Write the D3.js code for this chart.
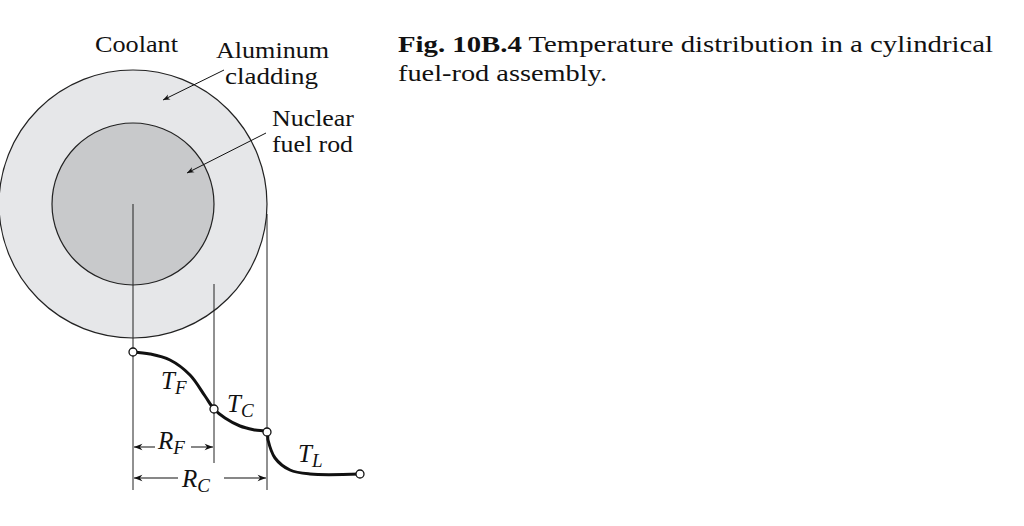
<!DOCTYPE html>
<html><head><meta charset="utf-8">
<script src="https://cdn.jsdelivr.net/npm/d3@7"></script>
<style>body{margin:0;background:#fff}text{font-family:"Liberation Serif","DejaVu Serif",serif;fill:#111}</style>
</head><body><svg id="c" width="1024" height="526"></svg>
<script>
// radial positions (px-like units) and temperature profile points
const radii = {fuel: 81, clad: 134};
const center = [133, 204];
const profileR = [0,17,37,57,72,81,92,107,122,134,135,142,157,177,227];
const profileT = [352,354,360,375,396,409,418,426,430,432,440,458,470,474,474];
const markers = [0,81,134,227];
const markerT = [352,409,432,474];

const svg = d3.select("#c");
const x = d3.scaleLinear().domain([0,1024]).range([center[0], center[0]+1024]);
const y = d3.scaleLinear().domain([0,526]).range([0,526]);

svg.append("defs").append("marker").attr("id","ah").attr("viewBox","0 0 10 10")
  .attr("refX",10).attr("refY",5).attr("markerWidth",9).attr("markerHeight",7).attr("orient","auto-start-reverse")
  .append("path").attr("d","M0,1 L10,5 L0,9 L3,5 Z").attr("fill","#111");

svg.append("circle").attr("cx",center[0]).attr("cy",center[1]).attr("r",radii.clad)
  .attr("fill","#e6e7e9").attr("stroke","#222").attr("stroke-width",1.2);
svg.append("circle").attr("cx",center[0]).attr("cy",center[1]).attr("r",radii.fuel)
  .attr("fill","#c8c9cb").attr("stroke","#222").attr("stroke-width",1.2);

svg.append("line").attr("x1",x(0)).attr("x2",x(0)).attr("y1",center[1]).attr("y2",490).attr("stroke","#222");
svg.append("line").attr("x1",x(81)).attr("x2",x(81)).attr("y1",center[1]+80).attr("y2",463).attr("stroke","#222");
svg.append("line").attr("x1",x(134)).attr("x2",x(134)).attr("y1",center[1]+10).attr("y2",490).attr("stroke","#222");

const pts = profileR.map((r,i)=>[x(r), y(profileT[i])]);
svg.append("path").attr("d", d3.line().curve(d3.curveCatmullRom)(pts))
  .attr("fill","none").attr("stroke","#111").attr("stroke-width",3);
markers.forEach((r,i)=>svg.append("circle").attr("cx",x(r)).attr("cy",y(markerT[i])).attr("r",4)
  .attr("fill","#fff").attr("stroke","#111").attr("stroke-width",1.3));

function dim(x1,x2,yy){svg.append("line").attr("x1",x1).attr("x2",x2).attr("y1",yy).attr("y2",yy)
  .attr("stroke","#111").attr("stroke-width",1.2).attr("marker-start","url(#ah)").attr("marker-end","url(#ah)");}
dim(x(0)+1,x(81)-1,447); dim(x(0)+1,x(134)-1,478);
svg.append("rect").attr("x",155).attr("y",433).attr("width",36).attr("height",30).attr("fill","#fff");
svg.append("rect").attr("x",178).attr("y",464).attr("width",46).attr("height",30).attr("fill","#fff");

function lead(x1,y1,x2,y2){svg.append("line").attr("x1",x1).attr("y1",y1).attr("x2",x2).attr("y2",y2)
  .attr("stroke","#111").attr("stroke-width",1).attr("marker-end","url(#ah)");}
lead(224,70,163,100); lead(266,133,187,173);

function txt(t,xx,yy,s,len){const e=svg.append("text").attr("x",xx).attr("y",yy).attr("font-size",s).text(t);
  if(len) e.attr("textLength",len).attr("lengthAdjust","spacingAndGlyphs"); return e;}
txt("Coolant",95,52,23,83); txt("Aluminum",216,58,23,113); txt("cladding",225,84,23,93);
txt("Nuclear",272,126,23,82); txt("fuel rod",272,152,23,81);
function sub(main,s,xx,yy){const t=svg.append("text").attr("x",xx).attr("y",yy).attr("font-size",25).attr("font-style","italic");
  t.append("tspan").text(main); t.append("tspan").attr("dy",5).attr("font-size",19).text(s);}
sub("T","F",161,389); sub("T","C",227,412); sub("T","L",298,462);
sub("R","F",158,449); sub("R","C",182,487);

const cap=svg.append("text").attr("x",398).attr("y",52).attr("font-size",24).attr("textLength",595).attr("lengthAdjust","spacingAndGlyphs");
cap.append("tspan").attr("font-weight","bold").text("Fig. 10B.4");
cap.append("tspan").text("  Temperature distribution in a cylindrical");
txt("fuel-rod assembly.",398,81,24,209);
</script></body></html>
